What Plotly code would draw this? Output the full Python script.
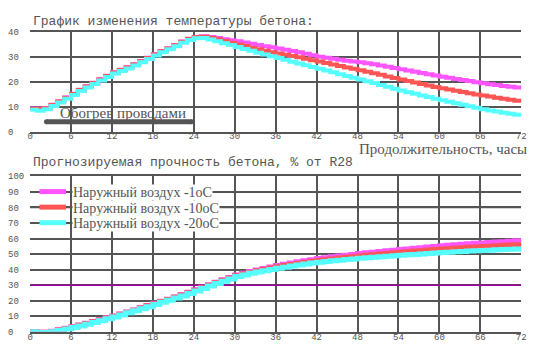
import plotly.graph_objects as go

W, H = 542, 356

HOURS = list(range(0, 73))

# Temperature of concrete, deg C (top chart)
TEMP_M1 = [9.3, 9.3, 9.5, 10.8, 12.2, 13.7, 15.2, 16.8, 18.2, 19.6, 21.0, 22.4, 23.8, 24.8, 25.8, 27.0,
           28.3, 29.6, 31.0, 32.3, 33.5, 34.8, 36.2, 37.3, 38.0, 38.3, 38.0, 37.6, 37.1, 36.7, 36.3, 35.8,
           35.3, 34.8, 34.3, 33.9, 33.4, 32.8, 32.3, 31.8, 31.2, 30.6, 30.0, 29.6, 29.2, 28.8, 28.4, 28.1,
           27.8, 27.4, 27.0, 26.5, 26.0, 25.5, 25.0, 24.5, 24.0, 23.5, 23.0, 22.5, 22.0, 21.6, 21.1, 20.7,
           20.3, 19.8, 19.4, 19.0, 18.7, 18.3, 18.0, 17.7, 17.4]
TEMP_M10 = [9.2, 9.2, 9.4, 10.7, 12.1, 13.6, 15.1, 16.7, 18.1, 19.5, 20.9, 22.3, 23.7, 24.7, 25.7, 26.9,
            28.2, 29.5, 30.9, 32.2, 33.4, 34.7, 36.1, 37.2, 37.9, 38.1, 37.7, 37.1, 36.4, 35.7, 35.0, 34.4,
            33.7, 33.0, 32.4, 31.8, 31.3, 30.8, 30.3, 29.8, 29.2, 28.6, 28.1, 27.5, 26.9, 26.3, 25.7, 25.2,
            24.6, 24.0, 23.4, 22.8, 22.1, 21.5, 20.9, 20.3, 19.7, 19.1, 18.5, 17.9, 17.4, 16.9, 16.4, 15.9,
            15.4, 14.9, 14.5, 14.1, 13.6, 13.2, 12.8, 12.4, 12.0]
TEMP_M20 = [8.8, 8.4, 9.0, 10.3, 11.7, 13.2, 14.7, 16.3, 17.7, 19.1, 20.5, 21.9, 23.3, 24.3, 25.3, 26.5,
            27.8, 29.1, 30.5, 31.8, 33.0, 34.3, 35.7, 36.8, 37.5, 37.6, 37.0, 36.3, 35.5, 34.8, 34.0, 33.2,
            32.4, 31.6, 30.9, 30.2, 29.5, 28.8, 28.0, 27.3, 26.6, 25.9, 25.2, 24.5, 23.8, 23.0, 22.3, 21.6,
            20.9, 20.2, 19.5, 18.7, 18.0, 17.2, 16.5, 15.8, 15.2, 14.5, 13.9, 13.2, 12.6, 12.0, 11.4, 10.8,
            10.2, 9.6, 9.0, 8.5, 8.1, 7.6, 7.2, 6.8, 6.4]

# Predicted strength, % of R28 (bottom chart)
STR_M1 = [0.2, -0.2, -0.2, 0.3, 1.3, 2.3, 3.3, 4.4, 5.5, 6.6, 7.8, 9.0, 10.2, 11.5, 12.8, 14.1,
          15.5, 16.9, 18.3, 19.7, 21.0, 22.4, 23.9, 25.4, 27.0, 28.7, 30.3, 31.9, 33.5, 35.0, 36.5, 37.7,
          38.8, 39.8, 40.8, 41.7, 42.6, 43.4, 44.2, 45.0, 45.7, 46.4, 47.1, 47.7, 48.3, 48.8, 49.3, 49.8,
          50.3, 50.8, 51.2, 51.7, 52.1, 52.5, 52.9, 53.3, 53.7, 54.1, 54.5, 54.9, 55.3, 55.6, 56.0, 56.3,
          56.6, 56.9, 57.2, 57.5, 57.8, 58.0, 58.3, 58.5, 58.7]
STR_M10 = [0.1, -0.3, -0.3, 0.2, 1.1, 2.1, 3.1, 4.2, 5.3, 6.4, 7.6, 8.8, 10.0, 11.3, 12.6, 13.9,
           15.3, 16.7, 18.1, 19.5, 20.8, 22.2, 23.7, 25.2, 26.8, 28.4, 30.0, 31.6, 33.1, 34.6, 36.1, 37.2,
           38.2, 39.2, 40.1, 41.0, 41.8, 42.6, 43.3, 44.0, 44.7, 45.3, 45.9, 46.4, 46.9, 47.4, 47.9, 48.3,
           48.8, 49.2, 49.6, 50.0, 50.4, 50.8, 51.2, 51.5, 51.9, 52.2, 52.6, 52.9, 53.2, 53.5, 53.8, 54.1,
           54.4, 54.6, 54.9, 55.1, 55.4, 55.6, 55.8, 56.0, 56.2]
STR_M20 = [0.0, -0.4, -0.4, 0.0, 0.8, 1.8, 2.8, 3.8, 4.9, 6.0, 7.2, 8.4, 9.6, 10.9, 12.2, 13.5,
           14.8, 16.2, 17.6, 19.0, 20.3, 21.7, 23.1, 24.6, 26.2, 27.8, 29.4, 31.0, 32.5, 34.0, 35.5, 36.6,
           37.6, 38.5, 39.3, 40.1, 40.9, 41.6, 42.3, 43.0, 43.6, 44.2, 44.8, 45.3, 45.7, 46.1, 46.5, 46.9,
           47.3, 47.7, 48.0, 48.3, 48.6, 48.9, 49.2, 49.5, 49.8, 50.1, 50.4, 50.7, 51.0, 51.2, 51.5, 51.7,
           51.9, 52.1, 52.3, 52.5, 52.7, 52.9, 53.1, 53.3, 53.5]

SERIES_NAMES = ["Наружный воздух -1оС", "Наружный воздух -10оС", "Наружный воздух -20оС"]
SERIES_COLORS = ["#FF55FF", "#FF5555", "#55FFFF"]

HEAT_X = [2.4, 23.7]
HEAT_Y = [4, 4]
HEAT_LABEL = "Обогрев проводами"

THRESHOLD = 30

X_TICKS = list(range(0, 73, 6))
Y1_TICKS = list(range(0, 41, 10))
Y2_TICKS = list(range(0, 101, 10))
LEGEND_GRID = [90, 80, 70]

TITLE1 = "График изменения температуры бетона:"
TITLE2 = "Прогнозируемая прочность бетона, % от R28"
XLABEL = "Продолжительность, часы"

GRID = "#555555"
TEXT = "#555555"
MONO = "Liberation Mono, DejaVu Sans Mono, monospace"
SERIF = "Liberation Serif, DejaVu Serif, serif"


def px(x):
    return x / W


def py(y):
    return 1 - y / H


fig = go.Figure()

temps = [TEMP_M1, TEMP_M10, TEMP_M20]
strs = [STR_M1, STR_M10, STR_M20]
for name, col, t in zip(SERIES_NAMES, SERIES_COLORS, temps):
    fig.add_trace(go.Scatter(x=HOURS, y=t, mode="lines", line=dict(color=col, width=4, shape="hv"),
                             name=name, showlegend=False, xaxis="x", yaxis="y", hoverinfo="skip"))

fig.add_trace(go.Scatter(x=HEAT_X, y=HEAT_Y, mode="lines+markers",
                         line=dict(color="#555555", width=5),
                         marker=dict(color="#555555", size=5, line=dict(width=0)),
                         showlegend=False, xaxis="x", yaxis="y", hoverinfo="skip"))

for name, col, s in zip(SERIES_NAMES, SERIES_COLORS, strs):
    fig.add_trace(go.Scatter(x=HOURS, y=s, mode="lines", line=dict(color=col, width=5, shape="hv"),
                             name=name, showlegend=False, xaxis="x2", yaxis="y2", hoverinfo="skip"))

XDOM = [px(27.5), px(526)]
axis_common = dict(showgrid=True, gridcolor=GRID, gridwidth=1.5, zeroline=False,
                   tickfont=dict(family=MONO, size=9, color=TEXT), ticks="", fixedrange=True)

fig.update_layout(
    width=W, height=H, autosize=False,
    margin=dict(l=0, r=0, t=0, b=0),
    paper_bgcolor="white", plot_bgcolor="white",
    showlegend=False,
    xaxis=dict(domain=XDOM, range=[0, 72], tickvals=X_TICKS, anchor="y",
               showline=True, mirror=True, linecolor=GRID, linewidth=1.5, ticklabelstandoff=-5,
               **axis_common),
    yaxis=dict(domain=[py(131.5), py(28.7)], range=[0, 40], tickvals=Y1_TICKS,
               anchor="free", position=px(1), side="left", ticklabelposition="inside",
               ticklabeloverflow="allow", showline=False, **axis_common),
    xaxis2=dict(domain=XDOM, range=[0, 72], tickvals=X_TICKS, anchor="y2",
                showline=True, mirror=True, linecolor=GRID, linewidth=1.5, ticklabelstandoff=-4,
                **axis_common),
    yaxis2=dict(domain=[py(337.3), py(177.3)], range=[0, 100], tickvals=Y2_TICKS,
                anchor="free", position=px(1), side="left", ticklabelposition="inside",
                ticklabeloverflow="allow", showline=False, **axis_common),
)

# threshold line in strength chart
fig.add_shape(type="line", xref="x2", yref="y2", x0=0, x1=72, y0=THRESHOLD, y1=THRESHOLD,
              line=dict(color="#A000A0", width=1.5), layer="between")

# legend box (hides vertical grid lines), horizontal grid lines stay visible
fig.add_shape(type="rect", xref="paper", yref="paper", x0=px(29), x1=px(224), y0=py(234), y1=py(185),
              fillcolor="white", line=dict(width=0), layer="between")
for g in LEGEND_GRID:
    fig.add_shape(type="line", xref="x2", yref="y2", x0=0, x1=72, y0=g, y1=g,
                  line=dict(color=GRID, width=1.5), layer="between")

# manual legend
for i, (name, col) in enumerate(zip(SERIES_NAMES, SERIES_COLORS)):
    yy = 193 + 16 * i
    fig.add_shape(type="line", xref="paper", yref="paper", x0=px(37), x1=px(64), y0=py(yy), y1=py(yy),
                  line=dict(color=col, width=5), layer="above")
    fig.add_annotation(text=name, xref="paper", yref="paper", x=px(70), y=py(yy + 1),
                       xanchor="left", yanchor="middle", showarrow=False, bgcolor="white", borderpad=0,
                       font=dict(family=SERIF, size=14, color=TEXT))

fig.add_annotation(text=TITLE1, xref="paper", yref="paper", x=px(28), y=py(18),
                   xanchor="left", yanchor="middle", showarrow=False,
                   font=dict(family=MONO, size=13, color=TEXT))
fig.add_annotation(text=TITLE2, xref="paper", yref="paper", x=px(28), y=py(163),
                   xanchor="left", yanchor="middle", showarrow=False,
                   font=dict(family=MONO, size=13, color=TEXT))
fig.add_annotation(text=XLABEL, xref="paper", yref="paper", x=px(534), y=py(149),
                   xanchor="right", yanchor="middle", showarrow=False,
                   font=dict(family=SERIF, size=15, color=TEXT))
fig.add_annotation(text=HEAT_LABEL, xref="paper", yref="paper", x=px(56), y=py(112),
                   xanchor="left", yanchor="middle", showarrow=False,
                   font=dict(family=SERIF, size=15, color=TEXT))

fig.write_html("out.html", config=dict(displayModeBar=False),
               post_script="document.body.style.margin='0';document.body.style.overflow='hidden';")
